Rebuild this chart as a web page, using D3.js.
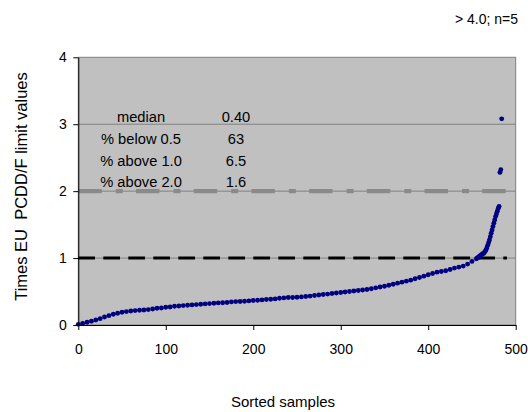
<!DOCTYPE html>
<html><head><meta charset="utf-8">
<script src="https://cdn.jsdelivr.net/npm/d3@7"></script>
<style>
html,body{margin:0;padding:0;background:#fff;}
svg{display:block;font-family:"Liberation Sans",Arial,sans-serif;}
</style></head>
<body>
<svg id="chart" width="528" height="412"></svg>
<script>
// ---- data ----
const sampleRank = [0,5,10,15,20,25,30,35,40,45,50,55,60,65,70,75,80,85,90,95,100,105,110,115,120,125,130,135,140,145,150,155,160,165,170,175,180,185,190,195,200,205,210,215,220,225,230,235,240,245,250,255,260,265,270,275,280,285,290,295,300,305,310,315,320,325,330,335,340,345,350,355,360,365,370,375,380,385,390,395,400,405,410,415,420,425,430,435,440,445,450,455,456,457,458,459,460,461,462,463,464,465,466,467,468,469,470,471,472,473,474,475,476,477,478,479,480,481,482,483,484];
const sampleValue = [0.01,0.025,0.04,0.055,0.075,0.095,0.12,0.14,0.16,0.175,0.19,0.2,0.21,0.215,0.22,0.225,0.23,0.24,0.25,0.255,0.265,0.27,0.28,0.285,0.29,0.295,0.3,0.305,0.31,0.315,0.32,0.325,0.33,0.333,0.336,0.345,0.35,0.352,0.355,0.36,0.365,0.37,0.375,0.38,0.385,0.39,0.4,0.405,0.41,0.412,0.415,0.42,0.425,0.432,0.44,0.448,0.455,0.462,0.47,0.478,0.485,0.492,0.5,0.507,0.515,0.522,0.53,0.542,0.555,0.567,0.58,0.595,0.61,0.625,0.64,0.655,0.67,0.69,0.71,0.73,0.75,0.77,0.79,0.8,0.81,0.83,0.85,0.865,0.88,0.91,0.95,0.99,1.0,1.01,1.02,1.03,1.04,1.05,1.06,1.07,1.08,1.1,1.12,1.15,1.19,1.23,1.27,1.32,1.37,1.42,1.47,1.52,1.57,1.62,1.66,1.7,1.74,1.77,2.28,2.32,3.08];
const xTicks = [0,100,200,300,400,500];
const yTicks = [0,1,2,3,4];
const limitLines = [{value:1, x0:0, x1:490, kind:"black"}, {value:2, x0:0, x1:490, kind:"gray"}];
const statLabels = ["median","% below 0.5","% above 1.0","% above 2.0"];
const statValues = ["0.40","63","6.5","1.6"];
const noteText = "> 4.0; n=5";
const xTitle = "Sorted samples";
const yTitle = "Times EU  PCDD/F limit values";

// ---- layout ----
const L = 78.3, R = 515.7, T = 57.3, B = 325;
const svg = d3.select("#chart");
const x = d3.scaleLinear().domain([0,500]).range([L,R]);
const y = d3.scaleLinear().domain([0,4]).range([B,T]);

// plot background
svg.append("rect").attr("x",L).attr("y",T).attr("width",R-L).attr("height",B-T)
  .attr("fill","#c0c0c0").attr("stroke","#808080").attr("stroke-width",1);

// gridlines
svg.append("g").selectAll("line").data(yTicks.filter(d=>d>0&&d<4)).join("line")
  .attr("x1",L).attr("x2",R).attr("y1",d=>y(d)).attr("y2",d=>y(d))
  .attr("stroke","#808080").attr("stroke-width",1);

// limit lines
const lim = svg.append("g");
limitLines.forEach(l=>{
  lim.append("line").attr("x1",x(l.x0)).attr("x2",x(l.x1))
    .attr("y1",y(l.value)).attr("y2",y(l.value))
    .attr("stroke", l.kind==="black" ? "#000" : "#8a8a8a")
    .attr("stroke-width", l.kind==="black" ? 3 : 4.3)
    .attr("stroke-dasharray", l.kind==="black" ? "16.7,8.3" : "23.5,14,7,13.2");
});

// data points
svg.append("g").selectAll("circle").data(sampleRank.map((r,i)=>({r, v:sampleValue[i]}))).join("circle")
  .attr("cx",d=>x(d.r)).attr("cy",d=>y(d.v)).attr("r",2.45).attr("fill","#000080");

// axes
const xAxis = svg.append("g").attr("transform",`translate(0,${B})`)
  .call(d3.axisBottom(x).tickValues(xTicks).tickSize(5).tickPadding(14).tickSizeOuter(0));
const yAxis = svg.append("g").attr("transform",`translate(${L},0)`)
  .call(d3.axisLeft(y).tickValues(yTicks).tickSize(5).tickPadding(6.5).tickSizeOuter(0).tickFormat(d3.format("d")));
[xAxis,yAxis].forEach(a=>{
  a.selectAll("text").attr("font-size",14).attr("fill","#000").attr("font-family","Liberation Sans, Arial, sans-serif");
  a.selectAll("line").attr("stroke","#000");
  a.select(".domain").attr("stroke","#000");
});

// stats table
const st = svg.append("g").attr("font-size",14.7).attr("fill","#000");
const baselines = [121.7,144,166,186.7];
statLabels.forEach((s,i)=>{
  st.append("text").attr("x",141).attr("y",baselines[i]).attr("text-anchor","middle").text(s);
  st.append("text").attr("x",236).attr("y",baselines[i]).attr("text-anchor","middle").text(statValues[i]);
});

// note
svg.append("text").attr("x",455).attr("y",24).attr("font-size",14).attr("fill","#000").text(noteText);

// titles
svg.append("text").attr("x",283).attr("y",407).attr("text-anchor","middle").attr("font-size",15).attr("fill","#000").text(xTitle);
svg.append("text").attr("transform","translate(27,186.5) rotate(-90)").attr("text-anchor","middle")
  .attr("font-size",16.5).attr("fill","#000").style("white-space","pre").text(yTitle);
</script>
</body></html>
